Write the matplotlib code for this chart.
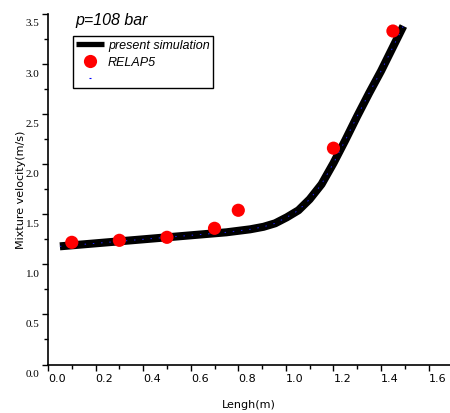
import matplotlib
matplotlib.use("Agg")
import matplotlib.pyplot as plt
from matplotlib.ticker import MultipleLocator
from matplotlib.transforms import ScaledTranslation
from matplotlib.lines import Line2D

# Data
sim_x = [0.05, 0.20, 0.40, 0.60, 0.75, 0.85, 0.906, 0.955, 1.004, 1.053, 1.10, 1.15, 1.20, 1.25, 1.30, 1.35, 1.40, 1.494]
sim_y = [1.18, 1.21, 1.25, 1.29, 1.32, 1.35, 1.375, 1.41, 1.47, 1.54, 1.65, 1.80, 2.01, 2.24, 2.48, 2.71, 2.93, 3.38]
relap_x = [0.10, 0.30, 0.50, 0.70, 0.80, 1.20, 1.45]
relap_y = [1.22, 1.24, 1.27, 1.36, 1.54, 2.16, 3.33]

xticks = [0.0, 0.2, 0.4, 0.6, 0.8, 1.0, 1.2, 1.4, 1.6]
yticks = [0.0, 0.5, 1.0, 1.5, 2.0, 2.5, 3.0, 3.5]
labels = ['present simulation', 'RELAP5', '']

dpi = 100
fig = plt.figure(figsize=(4.5, 4.14), dpi=dpi)
ax = fig.add_axes([48/450, 1-365.5/414, 1-48/450, (365.5-15)/414])

ax.plot(sim_x, sim_y, color='black', lw=5.8, solid_capstyle='butt', solid_joinstyle='round', zorder=2)
ax.scatter(relap_x, relap_y, s=90, color='red', zorder=3, edgecolors='none')
ax.plot(sim_x, sim_y, color='#2020ff', lw=0.7, ls=(0, (1.5, 7)), zorder=2.5)

ax.set_xlim(0, 1.69)
ax.set_ylim(0, 3.5)
ax.set_xticks(xticks)
ax.set_yticks(yticks)
ax.xaxis.set_minor_locator(MultipleLocator(0.1))
ax.yaxis.set_minor_locator(MultipleLocator(0.25))
ax.set_xticklabels([f"{v:.1f}" for v in xticks], fontsize=8, family='DejaVu Sans')
ax.set_yticklabels([f"{v:.1f}" for v in yticks], fontsize=8, family='Liberation Serif')
ax.tick_params(which='major', direction='out', length=4, width=1, pad=2)
ax.tick_params(which='minor', direction='out', length=3, width=1)

for lab in ax.get_xticklabels():
    lab.set_transform(lab.get_transform() + ScaledTranslation(9/dpi, 0, fig.dpi_scale_trans))
for lab in ax.get_yticklabels():
    lab.set_transform(lab.get_transform() + ScaledTranslation(0, -8/dpi, fig.dpi_scale_trans))

for s in ['top', 'right']:
    ax.spines[s].set_visible(False)
for s in ['left', 'bottom']:
    ax.spines[s].set_linewidth(1.2)

ax.set_xlabel('Lengh(m)', fontsize=8, family='DejaVu Sans', labelpad=12)
ax.set_ylabel('Mixture velocity(m/s)', fontsize=8, family='DejaVu Sans', labelpad=0)

fig.text(75/450, 1-20/414, 'p=108 bar', fontsize=11.5, style='italic', family='Liberation Sans', va='center', ha='left')

handles = [
    Line2D([], [], color='black', lw=3.8, solid_capstyle='butt'),
    Line2D([], [], color='red', marker='o', markersize=9.5, ls='none', markeredgewidth=0),
    Line2D([], [], color='blue', marker='_', markersize=2, ls='none', markeredgewidth=0.8),
]
leg = ax.legend(handles, labels, loc='upper left',
                bbox_to_anchor=((73-48)/402, (365.5-37)/350.5),
                prop={'size': 9, 'style': 'italic', 'family': 'Liberation Sans'},
                frameon=True, fancybox=False, edgecolor='black', framealpha=1,
                borderpad=0.25, labelspacing=0.4, handlelength=2.2, handletextpad=0.35,
                borderaxespad=0)
leg.get_frame().set_linewidth(1)

fig.savefig('out.png', dpi=dpi)
